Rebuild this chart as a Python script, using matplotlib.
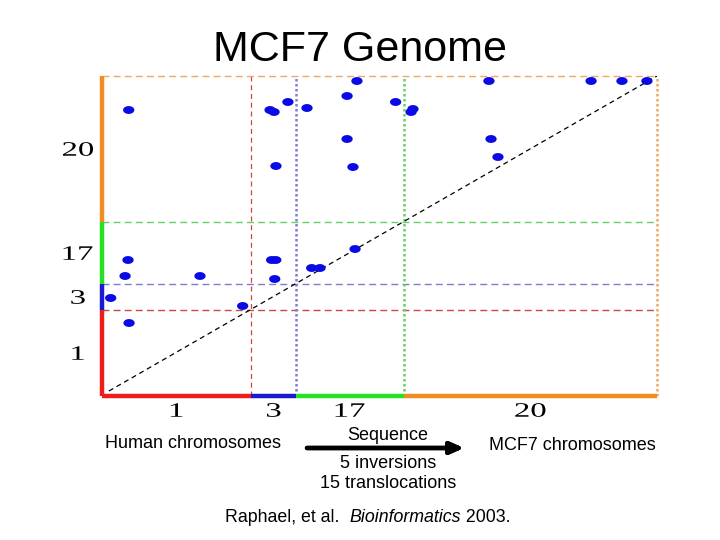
import numpy as np
import matplotlib
matplotlib.use("Agg")
from matplotlib import pyplot as plt
from matplotlib.path import Path
from matplotlib.textpath import TextPath
from matplotlib.patches import PathPatch
from matplotlib.font_manager import FontProperties
from matplotlib.transforms import Affine2D

# chromosome blocks (same order on both axes), cumulative boundaries in genome units
chrom_names = ["1", "3", "17", "20"]
chrom_bounds = [0, 86, 112, 174, 320]
chrom_colors = ["#ee1c1c", "#1a1ad2", "#25e025", "#f08c22"]
vline_colors = ["#c84848", "#7c7cd4", "#66d066", "#f0a860"]

# breakpoint dots: human position (x) vs MCF7 position (y)
dots_x = [15.4, 96.9, 99.2, 107.2, 118.2, 141.3, 147.0, 141.3, 144.7, 100.3,
          145.9, 169.3, 179.3, 178.2, 223.1, 282.0, 299.8, 314.2, 224.3, 228.3,
          15.0, 13.3, 56.5, 5.0, 15.6, 81.1, 97.8, 100.2, 99.6, 120.9, 125.7]
dots_y = [286, 286, 284, 294, 288, 300, 315, 257, 229, 230,
          147, 294, 287, 284, 315, 315, 315, 315, 257, 239,
          136, 120, 120, 98, 73, 90, 136, 136, 117, 128, 128]

fig = plt.figure(figsize=(7.2, 5.4), dpi=100)
ax = fig.add_axes([102/720, 1-396/540, 555/720, 320/540])
ax.set_xlim(0, 320)
ax.set_ylim(0, 320)
for s in ax.spines.values():
    s.set_visible(False)
ax.set_xticks([])
ax.set_yticks([])

# dashed boundary lines
for i in range(1, 5):
    b = chrom_bounds[i]
    lw_v = 0.9 if i == 1 else 1.8
    ls_v = (0, (4, 3)) if i == 1 else (0, (1.0, 1.0))
    ax.plot([b, b], [0, 320], color=vline_colors[i-1], lw=lw_v, ls=ls_v, clip_on=False)
    ax.plot([0, 320], [b, b], color=vline_colors[i-1], lw=1.0, ls=(0, (5, 3)), clip_on=False)

# diagonal
ax.plot([4, 320], [5, 320], color="black", lw=0.9, ls=(0, (4, 3)))

# ellipse marker
t = np.linspace(0, 2*np.pi, 40)
ell = Path(np.column_stack([np.cos(t), 0.7*np.sin(t)]), closed=True)
ax.scatter(dots_x, dots_y, s=66, marker=ell, color="#0a0ae6", edgecolors="none", zorder=5)

# wide serif labels (stretched glyphs, like the original)
serif = FontProperties(family="Liberation Serif")
to_fig = Affine2D().scale(1/100.) + fig.dpi_scale_trans

def wide_label(s, cx, cy, em=20.5, sx=1.6):
    p = TextPath((0, 0), s, size=1, prop=serif)
    bb = p.get_extents()
    tr = Affine2D().translate(-(bb.x0+bb.x1)/2, -(bb.y0+bb.y1)/2).scale(sx*em, em).translate(cx, cy)
    fig.add_artist(PathPatch(p, transform=tr + to_fig, color="black", lw=0))

fig.canvas.draw()
# coloured axes
for i in range(4):
    a, b = chrom_bounds[i], chrom_bounds[i+1]
    ax.plot([a, b], [0, 0], color=chrom_colors[i], lw=3.2, solid_capstyle="butt", clip_on=False, zorder=6)
    ax.plot([0, 0], [a, b], color=chrom_colors[i], lw=3.2, solid_capstyle="butt", clip_on=False, zorder=6)
    mid = (a + b) / 2
    dx, dy = ax.transData.transform((mid, mid))
    x0, y0 = ax.transData.transform((0, 0))
    wide_label(chrom_names[i], dx, y0 - 14)
    wide_label(chrom_names[i], x0 - 24, dy)

fig.text(0.5, 1-50/540, "MCF7 Genome", ha="center", va="center",
         family="Liberation Sans", fontsize=31)

sans = dict(family="Liberation Sans", fontsize=13, ha="center", va="center")
fig.text(193/720, 1-443/540, "Human chromosomes", **sans)
fig.text(572/720, 1-445/540, "MCF7 chromosomes", **sans)
fig.text(388/720, 1-435/540, "Sequence", **sans)
fig.text(388/720, 1-463/540, "5 inversions", **sans)
fig.text(388/720, 1-484/540, "15 translocations", **sans)
fig.add_artist(plt.annotate("", xy=(464/720, 1-448/540), xytext=(307/720, 1-448/540),
                            xycoords="figure fraction", textcoords="figure fraction",
                            arrowprops=dict(arrowstyle="-|>,head_length=0.8,head_width=0.35",
                                            color="black", lw=3.2, shrinkA=0, shrinkB=0)))

# citation with italic journal name
r = fig.canvas.get_renderer()
parts = [("Raphael, et al.  ", "normal"), ("Bioinformatics", "italic"), (" 2003.", "normal")]
widths = []
for txt, st in parts:
    tt = fig.text(0, 0, txt, family="Liberation Sans", fontsize=12.8, style=st)
    widths.append(tt.get_window_extent(r).width)
    tt.remove()
x0 = 368 - sum(widths) / 2
for (txt, st), w in zip(parts, widths):
    fig.text(x0/720, 1-518/540, txt, family="Liberation Sans", fontsize=12.8, style=st,
             ha="left", va="center")
    x0 += w

fig.savefig("out.png", dpi=100)
